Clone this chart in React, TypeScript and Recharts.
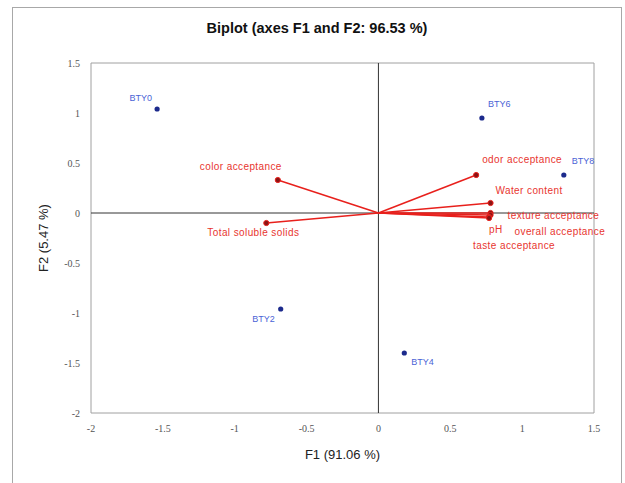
import {
  CartesianGrid,
  ReferenceArea,
  ReferenceLine,
  Scatter,
  ScatterChart,
  XAxis,
  YAxis,
} from 'recharts';

interface PointProps {
  cx?: number;
  cy?: number;
  payload?: { name: string };
}

const AXIS_TICKS = [-2, -1.5, -1, -0.5, 0, 0.5, 1, 1.5];

// observations (rows)
const obsNames = ['BTY0', 'BTY2', 'BTY4', 'BTY6', 'BTY8'];
const obsF1 = [-1.54, -0.68, 0.18, 0.72, 1.29];
const obsF2 = [1.04, -0.96, -1.4, 0.95, 0.38];

// variables (columns)
const varNames = [
  'color acceptance',
  'Total soluble solids',
  'odor acceptance',
  'Water content',
  'texture acceptance',
  'overall acceptance',
  'pH',
  'taste acceptance',
];
const varF1 = [-0.7, -0.78, 0.68, 0.78, 0.78, 0.78, 0.77, 0.77];
const varF2 = [0.33, -0.1, 0.38, 0.1, 0.0, -0.02, -0.04, -0.05];

const observations = obsNames.map((name, i) => ({ name, x: obsF1[i], y: obsF2[i] }));
const variables = varNames.map((name, i) => ({ name, x: varF1[i], y: varF2[i] }));

// label placement, relative to the point
const LABEL_POS: Record<string, [number, number, 'start' | 'middle' | 'end']> = {
  BTY0: [-5, -8, 'end'],
  BTY2: [-6, 13, 'end'],
  BTY4: [7, 12, 'start'],
  BTY6: [6, -11, 'start'],
  BTY8: [8, -11, 'start'],
  'color acceptance': [4, -10, 'end'],
  'Total soluble solids': [-13, 13, 'middle'],
  'odor acceptance': [6, -12, 'start'],
  'Water content': [5, -9, 'start'],
  'texture acceptance': [17, 6, 'start'],
  'overall acceptance': [24, 20, 'start'],
  pH: [0, 16, 'start'],
  'taste acceptance': [-16, 31, 'start'],
};

const ObsShape = ({ cx = 0, cy = 0, payload }: PointProps) => {
  const name = payload?.name ?? '';
  const [dx, dy, anchor] = LABEL_POS[name];
  return (
    <g>
      <circle cx={cx} cy={cy} r={2.6} fill='#1c2a8c' />
      <text x={cx + dx} y={cy + dy} textAnchor={anchor} fontSize={9} fill='#4a63d6' fontFamily='Liberation Sans'>
        {name}
      </text>
    </g>
  );
};

const VarShape = ({ cx = 0, cy = 0, payload }: PointProps) => {
  const name = payload?.name ?? '';
  const [dx, dy, anchor] = LABEL_POS[name];
  return (
    <g>
      <circle cx={cx} cy={cy} r={2.6} fill='#8a1414' stroke='#e8201c' strokeWidth={1} />
      <text
        x={cx + dx}
        y={cy + dy}
        textAnchor={anchor}
        fontSize={10}
        letterSpacing={0.4}
        fill='#e8352f'
        fontFamily='Liberation Sans'
      >
        {name}
      </text>
    </g>
  );
};

const App = (): JSX.Element => {
  return (
    <div style={{ position: 'absolute', left: 0, top: 0, width: 625, height: 483, background: '#fff' }}>
      <div
        style={{
          position: 'absolute',
          left: 12,
          top: 7,
          width: 610,
          height: 490,
          border: '1px solid #a8a8a8',
          boxSizing: 'border-box',
        }}
      />
      <div
        style={{
          position: 'absolute',
          left: 12,
          top: 20,
          width: 610,
          textAlign: 'center',
          fontFamily: 'Liberation Sans',
          fontWeight: 'bold',
          fontSize: 14.5,
          color: '#111',
        }}
      >
        Biplot (axes F1 and F2: 96.53 %)
      </div>
      <ScatterChart
        width={625}
        height={483}
        margin={{ top: 63, right: 31, bottom: 20, left: 36 }}
        style={{ position: 'absolute', left: 0, top: 0 }}
      >
        <CartesianGrid stroke='none' />
        <XAxis
          type='number'
          dataKey='x'
          domain={[-2, 1.5]}
          ticks={AXIS_TICKS}
          axisLine={false}
          tickLine={false}
          tickMargin={6}
          height={50}
          tick={{ fontSize: 10, fill: '#555', fontFamily: 'Liberation Serif' }}
          label={{
            value: 'F1 (91.06 %)',
            position: 'insideBottom',
            offset: 4,
            style: { fontSize: 13, fill: '#222', fontFamily: 'Liberation Sans' },
          }}
        />
        <YAxis
          type='number'
          dataKey='y'
          domain={[-2, 1.5]}
          ticks={AXIS_TICKS}
          axisLine={false}
          tickLine={false}
          tickMargin={5}
          width={55}
          tick={{ fontSize: 10, fill: '#555', fontFamily: 'Liberation Serif' }}
          label={{
            value: 'F2 (5.47 %)',
            angle: -90,
            position: 'insideLeft',
            offset: 7,
            style: { fontSize: 13, fill: '#222', fontFamily: 'Liberation Sans', textAnchor: 'middle' },
          }}
        />
        <ReferenceArea x1={-2} x2={1.5} y1={-2} y2={1.5} fill='none' stroke='#a0a0a0' strokeWidth={1} />
        <ReferenceLine x={0} stroke='#333' strokeWidth={1} />
        <ReferenceLine y={0} stroke='#333' strokeWidth={1} />
        {variables.map((v) => (
          <ReferenceLine
            key={v.name}
            segment={[
              { x: 0, y: 0 },
              { x: v.x, y: v.y },
            ]}
            stroke='#e8201c'
            strokeWidth={1.5}
          />
        ))}
        <Scatter data={variables} shape={<VarShape />} isAnimationActive={false} />
        <Scatter data={observations} shape={<ObsShape />} isAnimationActive={false} />
      </ScatterChart>
    </div>
  );
};

export default App;
